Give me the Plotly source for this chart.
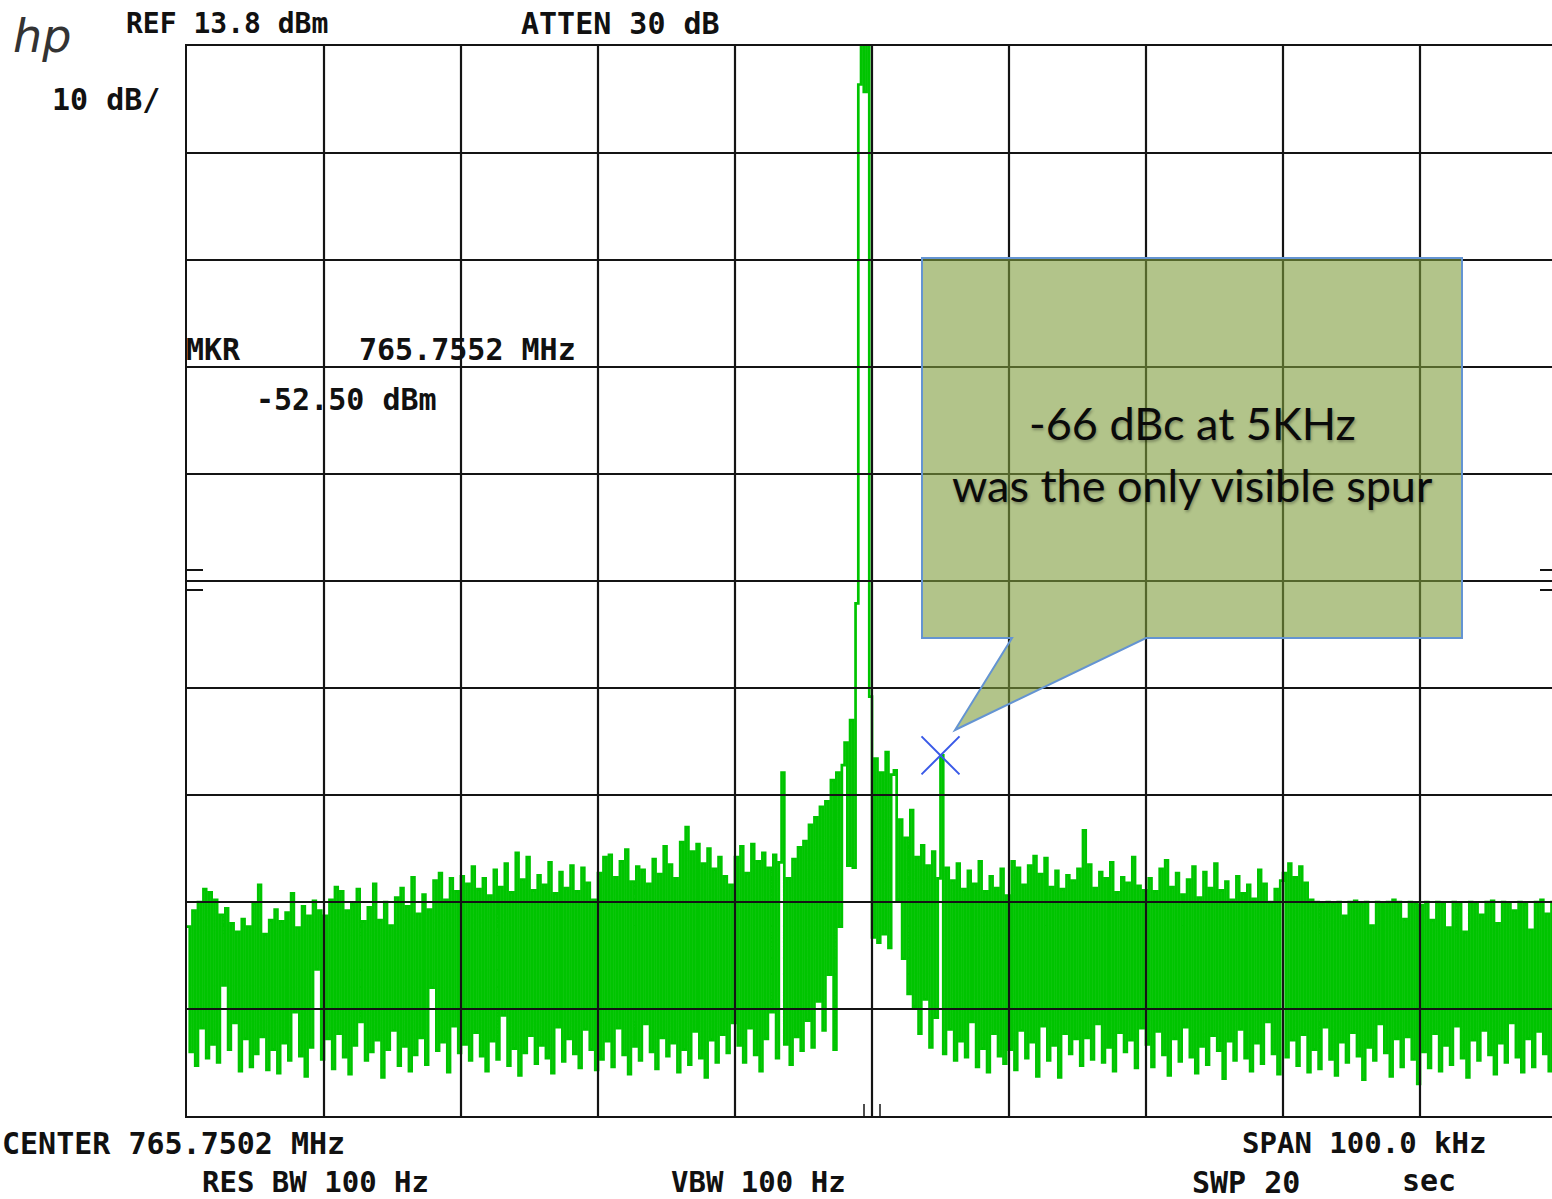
import plotly.graph_objects as go

# ---------------- instrument settings / readouts ----------------
center_mhz = 765.7502
span_khz = 100.0
ref_dbm = 13.8
db_per_div = 10
n_div = 10
marker_mhz = 765.7552
marker_dbm = -52.50

header_left = "REF 13.8 dBm"
header_mid = "ATTEN 30 dB"
scale_label = "10 dB/"
mkr_label = "MKR"
mkr_freq_label = "765.7552 MHz"
mkr_level_label = "-52.50 dBm"
footer_center = "CENTER 765.7502 MHz"
footer_span = "SPAN 100.0 kHz"
footer_rbw = "RES BW 100 Hz"
footer_vbw = "VBW 100 Hz"
footer_swp = "SWP 20"
footer_sec = "sec"
callout_lines = ["-66 dBc at 5KHz", "was the only visible spur"]

# ---------------- trace (dBm), one point every 0.2 kHz from -50 kHz ----------------
step_khz = 0.2
div0 = [-68.5, -80.2, -67.0, -81.5, -66.2, -78.0, -65.0, -80.8, -65.3, -79.5,
        -66.0, -81.2, -67.4, -74.0, -66.8, -80.0, -68.2, -77.5, -69.0, -82.0,
        -67.8, -79.0, -68.5, -81.6, -66.3, -80.4, -64.6, -78.8, -69.2, -81.9,
        -67.9, -80.0, -66.9, -82.2, -68.0, -79.4, -67.2, -81.0, -65.4, -76.5,
        -68.6, -80.6, -66.6, -82.5, -67.5, -79.8, -66.1, -72.5, -67.0, -80.9]
div1 = [-67.5, -79.0, -66.0, -81.8, -64.8, -78.5, -65.2, -80.7, -67.0, -82.3,
        -66.4, -79.6, -65.0, -77.4, -68.0, -81.0, -66.7, -80.2, -64.5, -79.1,
        -67.9, -82.6, -66.2, -80.0, -68.4, -78.2, -65.8, -81.5, -64.9, -79.7,
        -66.6, -82.0, -63.9, -80.5, -67.3, -78.9, -65.5, -81.4, -66.9, -74.2,
        -64.2, -80.1, -63.5, -79.3, -66.0, -82.1, -64.0, -77.8, -65.2, -80.3]
div2 = [-63.8, -79.5, -64.5, -81.0, -62.9, -78.4, -65.0, -80.6, -64.0, -82.0,
        -65.6, -79.2, -63.2, -80.9, -64.8, -76.8, -62.6, -81.5, -65.3, -79.9,
        -61.6, -82.4, -64.1, -80.3, -62.0, -78.7, -65.1, -81.3, -63.7, -79.6,
        -64.6, -80.8, -62.5, -82.2, -65.4, -77.9, -63.4, -81.1, -64.9, -79.0,
        -62.8, -80.4, -65.2, -81.7, -63.0, -78.1, -64.4, -80.0, -66.0, -81.9]
div3 = [-63.5, -80.9, -62.0, -79.2, -61.8, -81.6, -63.9, -78.0, -62.4, -80.5,
        -61.3, -82.3, -64.3, -79.7, -62.9, -81.0, -63.2, -77.6, -64.5, -80.2,
        -62.2, -81.8, -63.6, -78.9, -61.0, -80.6, -62.7, -79.4, -64.0, -82.1,
        -60.6, -80.0, -59.2, -81.4, -61.5, -78.3, -60.8, -80.8, -62.6, -82.6,
        -61.2, -79.1, -63.1, -81.2, -62.0, -78.6, -63.8, -80.3, -64.6, -77.5]
div4 = [-62.0, -79.6, -61.0, -81.2, -63.5, -78.0, -60.8, -80.5, -62.4, -82.0,
        -61.6, -79.0, -63.0, -76.5, -61.8, -80.8, -62.5, -54.1, -79.5, -64.0,
        -81.4, -62.2, -78.8, -61.1, -80.1, -60.5, -77.3, -59.0, -79.8, -58.3,
        -75.5, -57.3, -78.2, -56.8, -73.0, -54.8, -80.0, -54.1, -68.5, -53.4,
        -51.3, -62.8, -49.2, -63.0, -38.3, 10.2, 16.0, 9.5, 16.0, -47.0]
div5 = [-69.5, -52.8, -70.0, -54.1, -69.2, -52.2, -70.5, -54.3, -53.9, -66.0,
        -58.5, -71.5, -60.2, -74.8, -57.6, -76.0, -62.0, -78.5, -60.9, -75.3,
        -62.8, -79.8, -61.5, -77.0, -64.0, -52.5, -80.4, -63.0, -78.1, -64.2,
        -81.0, -62.6, -79.2, -65.0, -80.7, -63.3, -77.4, -64.5, -81.6, -62.4,
        -79.9, -65.2, -82.1, -63.8, -78.5, -64.9, -80.6, -63.1, -81.3, -65.6]
div6 = [-80.0, -62.4, -81.9, -63.0, -78.2, -64.6, -80.8, -62.8, -79.3, -61.9,
        -82.5, -63.6, -77.8, -62.1, -81.0, -64.8, -79.6, -63.3, -82.6, -65.0,
        -78.5, -63.7, -80.4, -64.2, -79.0, -63.1, -81.5, -59.5, -78.9, -62.7,
        -80.9, -64.9, -77.6, -63.4, -81.2, -64.0, -79.8, -62.5, -82.0, -65.3,
        -78.4, -63.9, -80.2, -64.4, -79.1, -62.0, -81.7, -64.7, -78.0, -65.1]
div7 = [-79.5, -64.0, -81.6, -65.2, -78.3, -63.1, -80.5, -62.3, -82.4, -64.8,
        -79.0, -63.5, -81.1, -65.5, -77.9, -64.1, -80.7, -62.9, -82.2, -65.8,
        -79.7, -63.4, -81.4, -64.9, -78.7, -62.6, -80.1, -65.1, -82.7, -64.3,
        -79.2, -66.0, -81.0, -63.8, -78.1, -65.4, -80.8, -64.6, -82.0, -65.9,
        -79.4, -63.2, -81.3, -64.5, -77.4, -66.2, -80.4, -65.0, -82.3, -64.2]
div8 = [-63.5, -80.7, -62.6, -79.1, -63.9, -81.5, -62.9, -78.6, -64.4, -82.1,
        -66.0, -80.0, -66.2, -81.8, -66.4, -77.9, -66.2, -80.9, -66.3, -82.4,
        -66.2, -79.3, -67.5, -81.2, -66.2, -78.4, -66.1, -80.6, -66.3, -82.8,
        -66.2, -79.8, -68.4, -81.0, -66.2, -77.6, -66.3, -80.3, -66.2, -82.5,
        -66.0, -79.0, -66.2, -81.6, -67.8, -78.8, -66.2, -80.9, -66.3, -83.2]
div9 = [-66.5, -80.2, -66.2, -81.7, -67.9, -78.5, -66.2, -82.0, -66.3, -79.6,
        -68.6, -81.4, -66.2, -77.8, -66.4, -80.8, -69.0, -82.6, -66.2, -79.1,
        -66.3, -81.0, -67.4, -78.2, -66.2, -80.5, -66.1, -82.3, -68.2, -79.4,
        -66.2, -81.2, -66.3, -77.5, -67.0, -80.7, -66.2, -82.1, -66.4, -79.0,
        -68.8, -81.6, -66.2, -78.3, -66.0, -80.4, -67.3, -82.0, -66.2, -79.7]

trace_dbm = div0 + div1 + div2 + div3 + div4 + div5 + div6 + div7 + div8 + div9
freq_khz = [-span_khz / 2 + step_khz * i for i in range(len(trace_dbm))]

# ---------------- geometry of the screen (pixels) ----------------
W, H = 1552, 1199
L, R, T, B = 187, 0, 46, 83
plot_w = W - L - R
plot_h = H - T - B
khz_per_div = span_khz / n_div
px_per_khz = 137.0 / khz_per_div
x0 = -span_khz / 2
x1 = x0 + plot_w / px_per_khz
y_top = ref_dbm
y_bot = ref_dbm - db_per_div * n_div


def px2x(px):
    return x0 + (px - L) / px_per_khz


def py2y(py):
    return y_top - (py - T) / plot_h * (y_top - y_bot)


def paper_x(px):
    return (px - L) / plot_w


def paper_y(py):
    return (H - B - py) / plot_h


fig = go.Figure()

fig.add_trace(go.Scatter(
    x=freq_khz, y=trace_dbm, mode="lines",
    line=dict(color="#00c400", width=2.7, shape="hv"),
    hoverinfo="skip", showlegend=False,
))

mkr_x = (marker_mhz - center_mhz) * 1000.0
fig.add_trace(go.Scatter(
    x=[mkr_x], y=[marker_dbm], mode="markers",
    marker=dict(symbol="x-thin", size=38, line=dict(color="#3a5ae8", width=2)),
    hoverinfo="skip", showlegend=False, cliponaxis=False,
))

shapes = []
grid_col = "#141414"
for k in range(1, n_div):
    xv = x0 + k * khz_per_div
    shapes.append(dict(type="line", xref="x", yref="y", x0=xv, x1=xv, y0=y_bot, y1=y_top,
                       line=dict(color=grid_col, width=2.2), layer="above"))
for k in range(1, n_div):
    yv = y_top - k * db_per_div
    shapes.append(dict(type="line", xref="x", yref="y", x0=x0, x1=x1, y0=yv, y1=yv,
                       line=dict(color=grid_col, width=2.2), layer="above"))

# reference-level ticks "=" on both sides
for py in (570, 590):
    shapes.append(dict(type="line", xref="x", yref="y", x0=px2x(187), x1=px2x(203),
                       y0=py2y(py), y1=py2y(py), line=dict(color=grid_col, width=2), layer="above"))
    shapes.append(dict(type="line", xref="x", yref="y", x0=px2x(1540), x1=px2x(1556),
                       y0=py2y(py), y1=py2y(py), line=dict(color=grid_col, width=2), layer="above"))
# small ticks near the centre at the bottom
for px in (864, 880):
    shapes.append(dict(type="line", xref="x", yref="y", x0=px2x(px), x1=px2x(px),
                       y0=py2y(1104), y1=y_bot, line=dict(color=grid_col, width=1.5), layer="above"))

# callout bubble
pts = [(922, 258), (1462, 258), (1462, 638), (1146, 638), (955, 730), (1012, 638), (922, 638)]
path = "M " + " L ".join(f"{px2x(a):.4f},{py2y(b):.4f}" for a, b in pts) + " Z"
shapes.append(dict(type="path", xref="x", yref="y", path=path,
                   fillcolor="rgba(126,156,60,0.6)",
                   line=dict(color="#6494d2", width=2), layer="above"))

fig.update_layout(shapes=shapes)

mono = "DejaVu Sans Mono"
ann = []


def txt(s, px, py, size=30, anchor="left"):
    ann.append(dict(text=s, x=paper_x(px), y=paper_y(py), xref="paper", yref="paper",
                    xanchor=anchor, yanchor="middle", showarrow=False,
                    font=dict(family=mono, size=size, color="#111", weight="bold")))


txt(header_left, 124, 24, 28)
txt(header_mid, 519, 24, 30)
txt(scale_label, 50, 99, 30)
txt(mkr_label, 184, 350, 30)
txt(mkr_freq_label, 357, 350, 30)
txt(mkr_level_label, 254, 400, 30)
txt(footer_center, 0, 1143, 30)
txt(footer_span, 1240, 1143, 29)
txt(footer_rbw, 200, 1182, 29)
txt(footer_vbw, 669, 1182, 29)
txt(footer_swp, 1190, 1182, 30)
txt(footer_sec, 1400, 1180, 30)

ann.append(dict(text="hp", x=paper_x(42), y=paper_y(36), xref="paper", yref="paper",
                xanchor="center", yanchor="middle", showarrow=False,
                font=dict(family="DejaVu Sans", size=46, color="#333", style="italic", weight=200)))

for i, line in enumerate(callout_lines):
    ann.append(dict(text=line, x=paper_x(1192), y=paper_y(423 + 62 * i), xref="paper", yref="paper",
                    xanchor="center", yanchor="middle", showarrow=False,
                    font=dict(family="Lato", size=45, color="#0a0a0a",
                              shadow="1px 2px 3px rgba(0,0,0,0.3)")))

fig.update_layout(
    annotations=ann,
    width=W, height=H, autosize=False,
    margin=dict(l=L, r=R, t=T, b=B, pad=0),
    paper_bgcolor="white", plot_bgcolor="white",
    xaxis=dict(range=[x0, x1], showgrid=False, zeroline=False, showticklabels=False,
               ticks="", showline=True, mirror=True, linecolor=grid_col, linewidth=2,
               fixedrange=True),
    yaxis=dict(range=[y_bot, y_top], showgrid=False, zeroline=False, showticklabels=False,
               ticks="", showline=True, mirror=False, linecolor=grid_col, linewidth=2,
               fixedrange=True),
    showlegend=False,
)

fig.write_html("out.html", config={"displayModeBar": False},
               post_script="document.body.style.margin='0';document.body.style.overflow='hidden';")
